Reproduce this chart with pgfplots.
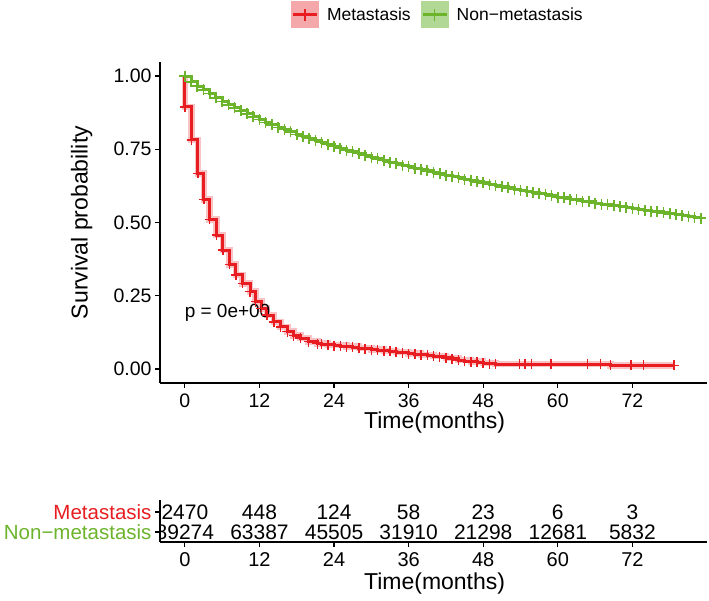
\documentclass[border=0pt]{standalone}
\usepackage{fontspec}
\setmainfont{Liberation Sans}
\usepackage{pgfplots}
\pgfplotsset{compat=1.18}

\definecolor{kmred}{RGB}{232,29,33}
\definecolor{kmgreen}{RGB}{108,180,44}
\definecolor{bandred}{RGB}{246,180,182}
\definecolor{keyred}{RGB}{244,168,170}
\definecolor{keygreen}{RGB}{178,216,150}

\pgfplotsset{
  kmaxis/.style={
    scale only axis, width=547pt,
    xmin=-4, xmax=84,
    xtick={0,12,24,36,48,60,72},
    axis x line*=bottom, axis y line*=left,
    axis line style={line width=1.2pt,-},
    every tick/.style={black,line width=1.2pt},
    major tick length=5pt,
    tick align=outside,
    /pgf/number format/assume math mode=true,
  },
}

\begin{document}
\begin{tikzpicture}

% survival curves
\begin{axis}[kmaxis,
  at={(160pt,218pt)}, anchor=south west,
  height=321pt,
  ymin=-0.048, ymax=1.048,
  ytick={0,0.25,0.5,0.75,1},
  yticklabels={0.00,0.25,0.50,0.75,1.00},
  tick label style={font=\fontsize{19.5}{20}\selectfont},
  xticklabel style={yshift=-2pt},
  xlabel={Time(months)},
  ylabel={Survival probability},
  every axis x label/.style={at={(axis description cs:0.502,-0.123)},anchor=center,font=\fontsize{23}{24}\selectfont},
  every axis y label/.style={at={(axis description cs:-0.143,0.5)},rotate=90,anchor=center,font=\fontsize{23}{24}\selectfont},
  legend columns=2,
  legend style={draw=none,fill=none,at={(axis description cs:0.508,1.098)},anchor=south,
    font=\fontsize{17.5}{20}\selectfont,
    /tikz/every even column/.append style={column sep=8pt}},
]
% confidence band of Metastasis (approximate)
\addplot[const plot, bandred, line width=6.5pt, opacity=0.8, forget plot] coordinates {
 (0,1.0)(0,0.895)(1.1,0.782)(2.1,0.668)(3.06,0.579)(4.0,0.511)(5.1,0.457)(6.1,0.406)(7.2,0.357)(8.2,0.321)
 (9.3,0.292)(10.5,0.264)(11.4,0.230)(12.3,0.207)(13.2,0.184)(14.3,0.161)(15.4,0.144)(16.5,0.127)(17.5,0.114)
 (18.6,0.105)(19.9,0.093)(21.3,0.086)(23,0.082)(26,0.076)(28,0.071)(30,0.066)(32,0.062)(34,0.057)(36,0.052)
 (38,0.048)(40,0.044)(42,0.038)(44,0.030)(46,0.025)(48,0.020)(50,0.016)(68.5,0.012)(78.7,0.012)};

\addplot[const plot, kmred, line width=3pt,
  mark=+, mark size=5pt, mark options={kmred,line width=1.5pt,solid},
  legend image code/.code={
    \fill[keyred,draw=none] (0pt,-13.5pt) rectangle (28pt,13.5pt);
    \draw[kmred,line width=3pt] (2pt,0pt) -- (26pt,0pt);
    \draw[kmred,line width=1.5pt] (14pt,-6pt) -- (14pt,6pt);
    \path[draw=none,fill=none] (0pt,0pt) -- (34pt,0pt);}
] coordinates {
 (0,1.0)(0,0.895)(1.1,0.782)(2.1,0.668)(3.06,0.579)(4.0,0.511)(5.1,0.457)(6.1,0.406)(7.2,0.357)(8.2,0.321)
 (9.3,0.292)(10.5,0.264)(11.4,0.230)(12.3,0.207)(13.2,0.184)(14.3,0.161)(15.4,0.144)(16.5,0.127)(17.5,0.114)
 (18.6,0.105)(19.9,0.093)(21.3,0.086)
 (22,0.084)(23,0.082)(24,0.080)(25,0.078)(26,0.076)(27,0.074)(28,0.071)(29,0.069)(30,0.066)(31,0.064)
 (32,0.062)(33,0.060)(34,0.057)(35,0.055)(36,0.052)(37,0.050)(38,0.048)(39,0.046)(40,0.044)(41,0.042)
 (42,0.038)(43,0.034)(44,0.030)(45,0.027)(46,0.025)(47,0.022)(48,0.020)(49,0.018)(50,0.016)
 (53.8,0.016)(54.7,0.016)(55.8,0.016)(58.9,0.016)(64.8,0.016)(66.9,0.016)(68.5,0.012)
 (71.8,0.012)(73.8,0.012)(78.7,0.012)};
\addlegendentry{Metastasis}

\addplot[const plot, kmgreen, line width=3pt,
  mark=+, mark size=5.5pt, mark options={kmgreen,line width=1.6pt,solid},
  legend image code/.code={
    \fill[keygreen,draw=none] (0pt,-13.5pt) rectangle (28pt,13.5pt);
    \draw[kmgreen,line width=3pt] (2pt,0pt) -- (26pt,0pt);
    \draw[kmgreen,line width=1.5pt] (14pt,-6pt) -- (14pt,6pt);
    \path[draw=none,fill=none] (0pt,0pt) -- (34pt,0pt);}
] coordinates {
 (0,1.0)(1,0.980)(2,0.966)(3,0.953)(4,0.940)(5,0.926)(6,0.913)(7,0.902)(8,0.891)(9,0.881)
 (10,0.871)(11,0.861)(12,0.852)(13,0.842)(14,0.833)(15,0.825)(16,0.817)(17,0.809)(18,0.801)(19,0.794)
 (20,0.787)(21,0.780)(22,0.773)(23,0.766)(24,0.759)(25,0.753)(26,0.747)(27,0.741)(28,0.735)(29,0.729)
 (30,0.723)(31,0.717)(32,0.711)(33,0.706)(34,0.701)(35,0.696)(36,0.691)(37,0.686)(38,0.681)(39,0.676)
 (40,0.671)(41,0.666)(42,0.662)(43,0.657)(44,0.653)(45,0.648)(46,0.644)(47,0.639)(48,0.635)(49,0.631)
 (50,0.627)(51,0.622)(52,0.618)(53,0.614)(54,0.610)(55,0.606)(56,0.602)(57,0.598)(58,0.595)(59,0.591)
 (60,0.587)(61,0.584)(62,0.580)(63,0.577)(64,0.573)(65,0.570)(66,0.566)(67,0.563)(68,0.560)(69,0.557)
 (70,0.554)(71,0.551)(72,0.548)(73,0.545)(74,0.542)(75,0.539)(76,0.536)(77,0.533)(78,0.530)(79,0.527)
 (80,0.524)(81,0.521)(82,0.518)(83,0.515)};
\addlegendentry{Non−metastasis}

\node[anchor=base west,font=\fontsize{19}{20}\selectfont,inner sep=0pt] at (axis cs:-0.05,0.174) {p = 0e+00};
\end{axis}

% number at risk
\begin{axis}[kmaxis,
  at={(160pt,59pt)}, anchor=south west,
  height=42pt,
  ymin=0.5, ymax=2.6,
  ytick={1,2},
  yticklabels={\textcolor{kmgreen}{Non−metastasis},\textcolor{kmred}{Metastasis}},
  yticklabel style={font=\fontsize{20.5}{22}\selectfont},
  xticklabel style={font=\fontsize{20}{21}\selectfont,yshift=-2pt},
  xlabel={Time(months)},
  every axis x label/.style={at={(axis description cs:0.502,-0.98)},anchor=center,font=\fontsize{23}{24}\selectfont},
  clip marker paths=true,
  nodes near coords,
  point meta=explicit symbolic,
  every node near coord/.style={anchor=center,font=\fontsize{21}{22}\selectfont,inner sep=0pt},
]
\addplot[draw=none, mark=none] table[meta=n] {
x y n
0 2 2470
12 2 448
24 2 124
36 2 58
48 2 23
60 2 6
72 2 3
};
\addplot[draw=none, mark=none] table[meta=n] {
x y n
0 1 89274
12 1 63387
24 1 45505
36 1 31910
48 1 21298
60 1 12681
72 1 5832
};
\end{axis}

\pgfresetboundingbox
\path (0,0) rectangle (709pt,601pt);
\end{tikzpicture}
\end{document}
